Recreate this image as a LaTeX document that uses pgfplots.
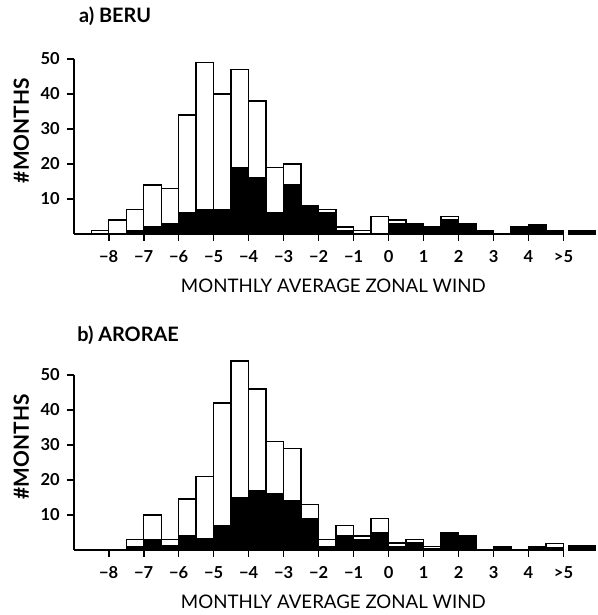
\documentclass[border=0pt]{standalone}
\usepackage{pgfplots}
\pgfplotsset{compat=1.18}
\usepackage{fontspec}
\setmainfont{Lato}

% 1 px of the reference = 0.5pt
\pgfplotsset{
  panel/.style={
    anchor=origin,
    x=17.6pt, y=1.76pt,
    xmin=-9, xmax=5, ymin=0, ymax=50,
    axis lines=left,
    axis line style={-, line width=0.8pt},
    clip=false,
    xtick={-8,-7,-6,-5,-4,-3,-2,-1,0,1,2,3,4,5},
    xticklabels={−8,−7,−6,−5,−4,−3,−2,−1,0,1,2,3,4,>5},
    ytick={10,20,30,40,50},
    tick align=outside,
    major tick length=3.5pt,
    tick style={black, line width=0.8pt},
    /pgf/number format/assume math mode=true,
    tick label style={font=\bfseries\fontsize{8.3}{9}\selectfont},
    xticklabel style={yshift=-1.5pt},
    xlabel={MONTHLY AVERAGE ZONAL WIND},
    ylabel={\#MONTHS},
    xlabel style={font=\fontsize{9.4}{11}\selectfont, at={(ticklabel cs:0.53)}, yshift=-1pt},
    ylabel style={font=\bfseries\fontsize{10.5}{12}\selectfont, at={(ticklabel cs:0.59)}, yshift=-1pt},
  },
  wbar/.style={ybar, bar width=0.5, bar shift=0pt, fill=white, draw=black, line width=0.7pt},
  bbar/.style={ybar, bar width=0.5, bar shift=0pt, fill=black, draw=black, line width=0.7pt},
}

\begin{document}
\begin{tikzpicture}
\path (-195.5pt,117.5pt) rectangle (105pt,-190pt);

% ---------- a) BERU ----------
\begin{axis}[panel, at={(0pt,0pt)}]
  \addplot[wbar] coordinates {
    (-8.25,1) (-7.75,4) (-7.25,7) (-6.75,14) (-6.25,13) (-5.75,34)
    (-5.25,49) (-4.75,40) (-4.25,47) (-3.75,38) (-3.25,19) (-2.75,20)
    (-2.25,8) (-1.75,7) (-1.25,2) (-0.75,1) (-0.25,5) (0.25,4)
    (0.75,3) (1.25,2) (1.75,5) (2.25,3) (2.75,1) (3.75,2)
    (4.25,2.5) (4.75,1)
  };
  \addplot[bbar] coordinates {
    (-7.25,1) (-6.75,2) (-6.25,3) (-5.75,6) (-5.25,7) (-4.75,7)
    (-4.25,19) (-3.75,16) (-3.25,6) (-2.75,14) (-2.25,8) (-1.75,6)
    (-1.25,1) (0.25,3) (0.75,2.7) (1.25,2) (1.75,4) (2.25,2.7)
    (2.75,1) (3.75,1.7) (4.25,2.4) (4.75,0.8)
  };
  % separate ">5" class
  \addplot[bbar, bar width=0.75] coordinates {(5.53,0.9)};
  \node[anchor=base west, font=\bfseries\fontsize{10}{12}\selectfont]
    at (axis cs:-9.05,60.5) {a) BERU};
\end{axis}

% ---------- b) ARORAE ----------
\begin{axis}[panel, at={(0pt,-159pt)}]
  \addplot[wbar] coordinates {
    (-7.25,3) (-6.75,10) (-6.25,3) (-5.75,14.5) (-5.25,21) (-4.75,42)
    (-4.25,54) (-3.75,46) (-3.25,31) (-2.75,29) (-2.25,13) (-1.75,3)
    (-1.25,7) (-0.75,4) (-0.25,9) (0.25,2) (0.75,3) (1.25,1)
    (1.75,5) (2.25,4) (3.25,0.8) (4.25,0.8) (4.75,1.8)
  };
  \addplot[bbar] coordinates {
    (-7.25,1) (-6.75,3) (-6.25,1.2) (-5.75,4) (-5.25,3.3) (-4.75,7)
    (-4.25,15) (-3.75,17) (-3.25,16) (-2.75,14) (-2.25,9) (-1.75,1)
    (-1.25,4) (-0.75,3) (-0.25,5) (0.25,1) (0.75,2) (1.25,0.4)
    (1.75,5) (2.25,4) (3.25,0.8) (4.25,0.8) (4.75,0.7)
  };
  \addplot[bbar, bar width=0.75] coordinates {(5.53,1.1)};
  \node[anchor=base west, font=\bfseries\fontsize{10}{12}\selectfont]
    at (axis cs:-9.1,59.7) {b) ARORAE};
\end{axis}
\end{tikzpicture}
\end{document}
